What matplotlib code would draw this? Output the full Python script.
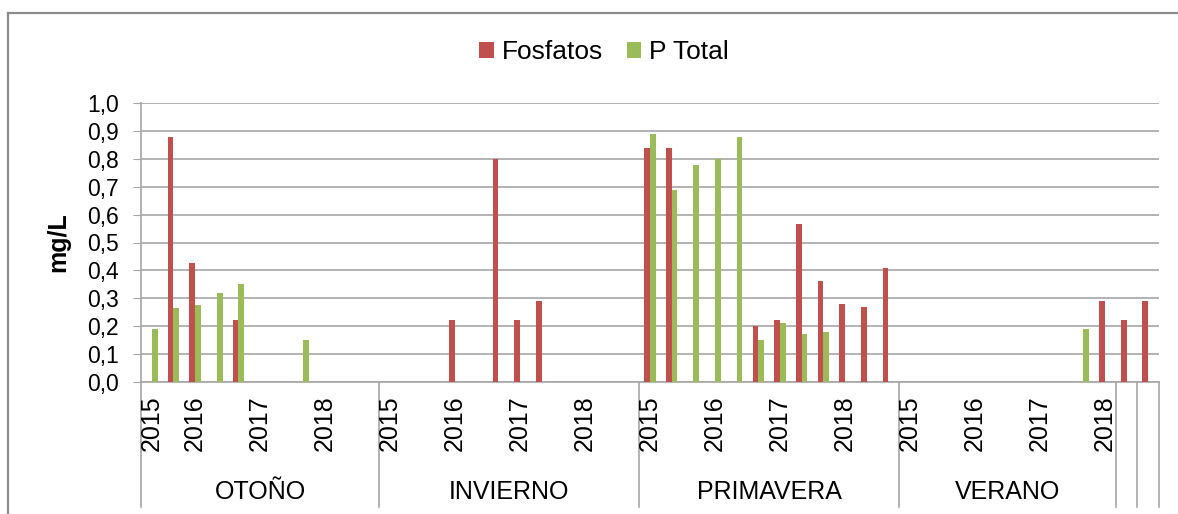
import numpy as np
import matplotlib
matplotlib.use('Agg')
import matplotlib.pyplot as plt
from matplotlib.lines import Line2D
from matplotlib.patches import Patch
from matplotlib.transforms import blended_transform_factory

plt.rcParams['font.family'] = ['Liberation Sans', 'DejaVu Sans']

nan = np.nan

# category structure (season -> years -> samples)
seasons = ['OTOÑO', 'INVIERNO', 'PRIMAVERA', 'VERANO', '', '']
season_sizes = [11, 12, 12, 10, 1, 1]
years = ['2015', '2016', '2017', '2018']
year_sizes = [[2, 3, 3, 3], [3, 3, 3, 3], [3, 3, 3, 3], [3, 3, 3, 1], [], []]

# Fosfatos (mg/L), one value per sample
fosfatos_otono = [nan, 0.88, 0.425, nan, 0.22, nan, nan, nan, nan, nan, nan]
fosfatos_invierno = [nan, nan, nan, 0.22, nan, 0.80, 0.22, 0.29, nan, nan, nan, nan]
fosfatos_primavera = [0.84, 0.84, nan, nan, nan, 0.20, 0.22, 0.565, 0.36, 0.28, 0.27, 0.41]
fosfatos_verano = [nan, nan, nan, nan, nan, nan, nan, nan, nan, 0.29]
fosfatos_extra = [0.22, 0.29]

# P Total (mg/L)
ptotal_otono = [0.19, 0.265, 0.275, 0.32, 0.35, nan, nan, 0.15, nan, nan, nan]
ptotal_invierno = [nan] * 12
ptotal_primavera = [0.89, 0.69, 0.78, 0.80, 0.88, 0.15, 0.21, 0.17, 0.18, nan, nan, nan]
ptotal_verano = [nan, nan, nan, nan, nan, nan, nan, nan, 0.19, nan]
ptotal_extra = [nan, nan]

fosfatos = np.array(fosfatos_otono + fosfatos_invierno + fosfatos_primavera
                    + fosfatos_verano + fosfatos_extra)
p_total = np.array(ptotal_otono + ptotal_invierno + ptotal_primavera
                   + ptotal_verano + ptotal_extra)

RED = '#C0504D'
GREEN = '#9BBB59'
GRID = '#A6A6A6'

fig = plt.figure(figsize=(11.78, 5.14), dpi=100)
ax = fig.add_axes([141 / 1178, 1 - 381.7 / 514, (1159 - 141) / 1178, (381.7 - 103.3) / 514])

n = len(fosfatos)
x = np.arange(n) + 0.5
bw = 0.265
ax.bar(x - bw / 2, fosfatos, bw, color=RED, zorder=3)
ax.bar(x + bw / 2, p_total, bw, color=GREEN, zorder=3)

ax.set_xlim(0, n)
ax.set_ylim(0, 1.0)
ax.set_yticks(np.arange(0, 1.01, 0.1))
ax.set_yticklabels([f'{v:.1f}'.replace('.', ',') for v in np.arange(0, 1.01, 0.1)])
ax.set_xticks([])
ax.yaxis.grid(True, color=GRID, lw=1.2)
ax.set_axisbelow(True)
ax.tick_params(axis='y', direction='out', length=6, color=GRID, labelsize=16.5, pad=10)
for s in ['top', 'right']:
    ax.spines[s].set_visible(False)
for s in ['left', 'bottom']:
    ax.spines[s].set_color(GRID)
    ax.spines[s].set_linewidth(1.2)

# multi-level category axis
trans = blended_transform_factory(ax.transData, ax.transAxes)
bounds = np.concatenate([[0], np.cumsum(season_sizes)])
for b in bounds:
    ax.plot([b, b], [0, -0.449], transform=trans, color=GRID, lw=1.2, clip_on=False)

for start, size, name, ys in zip(bounds[:-1], season_sizes, seasons, year_sizes):
    pos = start
    for yr, k in zip(years, ys):
        ax.text(pos + 0.5, -0.05, yr, transform=trans, rotation=90,
                ha='center', va='top', fontsize=18)
        pos += k
    if name:
        ax.text(start + size / 2, -0.396, name, transform=trans,
                ha='center', va='center', fontsize=18)

fig.text(58 / 1178, 1 - 242 / 514, 'mg/L', rotation=90, fontsize=18,
         fontweight='bold', ha='center', va='center')

handles = [Patch(facecolor=RED, label='Fosfatos'), Patch(facecolor=GREEN, label='P Total')]
fig.legend(handles=handles, loc='center', bbox_to_anchor=(604 / 1178, 1 - 52 / 514), ncol=2,
           frameon=False, fontsize=19, handlelength=0.55, handleheight=0.55,
           handletextpad=0.3, columnspacing=0.9)

# chart outer border (left and top visible)
fig.add_artist(Line2D([8.3 / 1178, 8.3 / 1178], [0, 1 - 13.3 / 514],
                      transform=fig.transFigure, color='#8C8C8C', lw=1.6))
fig.add_artist(Line2D([8.3 / 1178, 1], [1 - 13.3 / 514, 1 - 13.3 / 514],
                      transform=fig.transFigure, color='#8C8C8C', lw=1.6))

fig.savefig('out.png', dpi=100)
